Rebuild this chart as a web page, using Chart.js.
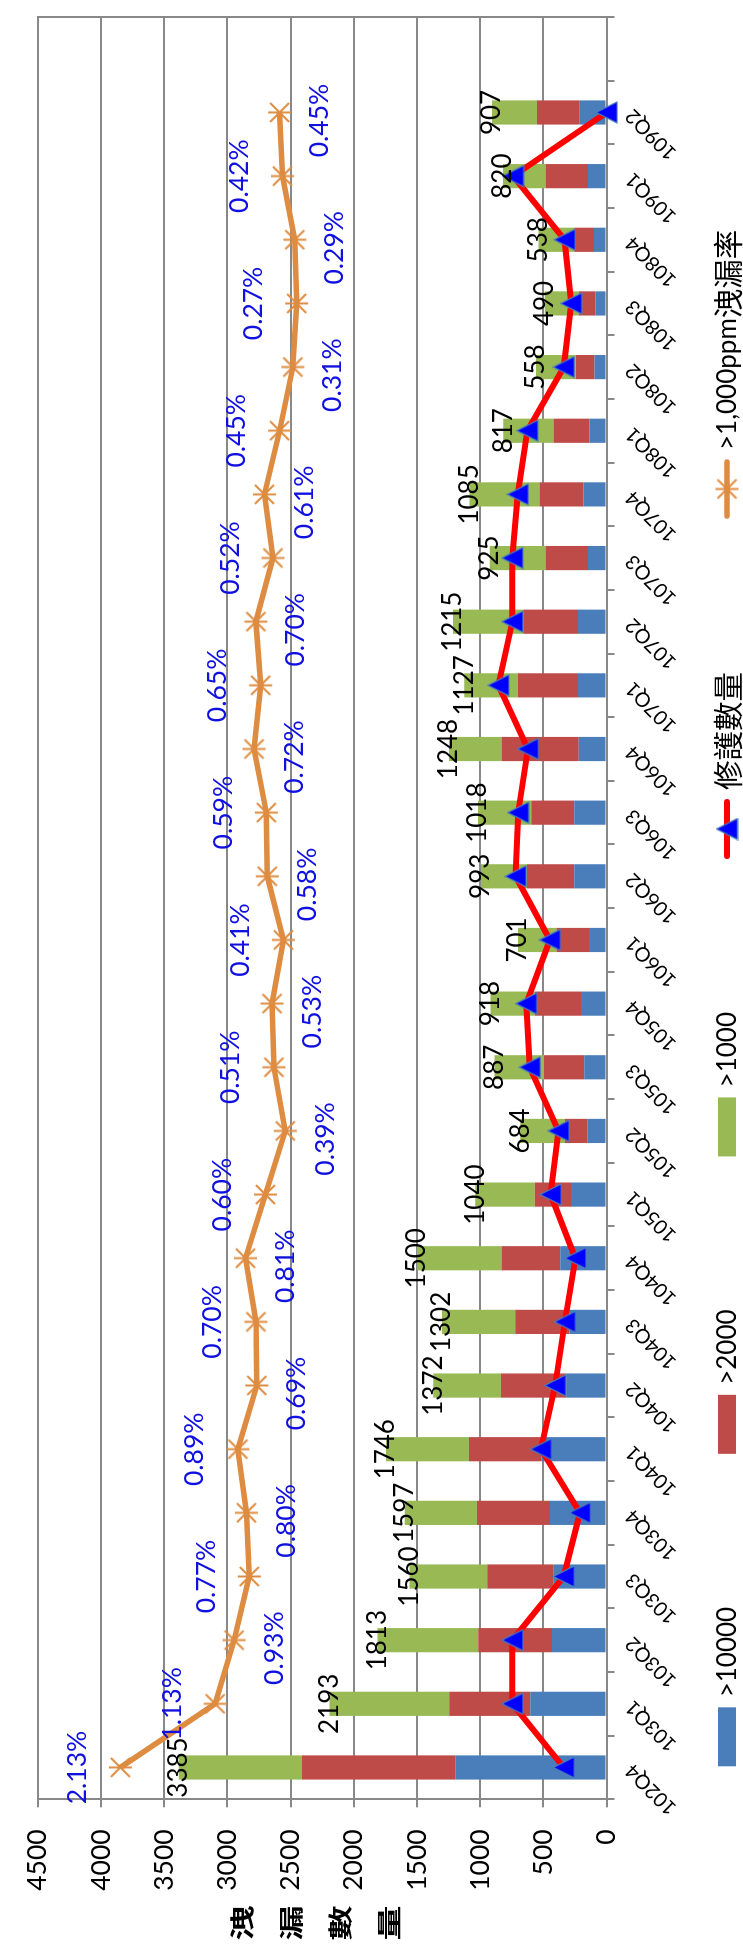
<!DOCTYPE html>
<html>
<head>
<meta charset="utf-8">
<script src="https://cdn.jsdelivr.net/npm/chart.js"></script>
<style>
  html, body { margin: 0; padding: 0; background: #fff; width: 743px; height: 1953px; overflow: hidden; }
  /* the chart is laid out landscape and turned a quarter turn counter-clockwise */
  #frame { position: absolute; left: 0; top: 1953px; width: 1953px; height: 743px;
           transform-origin: 0 0; transform: rotate(-90deg); background: #fff; }
  #chart { display: block; }
</style>
</head>
<body>
<div id="frame"><canvas id="chart" width="1953" height="743"></canvas></div>
<script>
// ---- data ----
const quarters = ['102Q4','103Q1','103Q2','103Q3','103Q4','104Q1','104Q2','104Q3','104Q4',
                  '105Q1','105Q2','105Q3','105Q4','106Q1','106Q2','106Q3','106Q4',
                  '107Q1','107Q2','107Q3','107Q4','108Q1','108Q2','108Q3','108Q4',
                  '109Q1','109Q2',''];
const leaksOver10000 = [1198,605,432,418,447,513,319,293,366,282,154,176,202,139,256,256,220,227,227,147,183,136,95,88,99,147,212];
const leaksOver2000  = [1213,641,583,527,579,575,516,429,466,286,176,319,366,257,374,341,612,476,433,337,348,285,150,132,157,337,338];
const leaksOver1000  = [974,947,798,615,571,658,537,580,668,472,354,392,350,305,363,421,416,424,555,441,554,396,313,270,282,336,357];
const repairCount    = [339,746,746,339,211,520,407,330,247,443,381,608,636,449,720,700,623,856,746,746,703,627,339,280,333,740,0];
const leakRatePct    = [2.13,1.13,0.93,0.77,0.80,0.89,0.69,0.70,0.81,0.60,0.39,0.51,0.53,0.41,0.58,0.59,0.72,0.65,0.70,0.52,0.61,0.45,0.31,0.27,0.29,0.42,0.45];
const countTicks     = [0,500,1000,1500,2000,2500,3000,3500,4000,4500];
const rateRange      = [-3, 3];
const seriesNames    = ['>10000', '>2000', '>1000', '修護數量', '>1,000ppm洩漏率'];
const axisTitle      = '洩漏數量';

// ---- styles ----
const LATIN = 'Lato, "Liberation Sans", sans-serif';
const CJK = '"Noto Sans CJK TC", "Noto Sans CJK SC", sans-serif';
const GRID = '#888888';
const BLUE_BAR = '#4A7EBB', RED_BAR = '#BE4B48', GREEN_BAR = '#98B954';
const REPAIR_RED = '#FF0000', RATE_ORANGE = '#DE8C41', RATE_TEXT = '#1010E0';

function makeTriangle(fill, stroke, w, h) {
  const c = document.createElement('canvas');
  c.width = w + 2; c.height = h + 2;
  const g = c.getContext('2d');
  g.beginPath();
  g.moveTo((w + 2) / 2, 1);
  g.lineTo(w + 1, h + 1);
  g.lineTo(1, h + 1);
  g.closePath();
  g.fillStyle = fill; g.fill();
  g.lineWidth = 1.2; g.strokeStyle = stroke; g.stroke();
  return c;
}
function makeStar(color, size, lw) {
  const c = document.createElement('canvas');
  c.width = c.height = size;
  const g = c.getContext('2d');
  const m = size / 2, d = size / 2 - 3, v = size / 2 - 1;
  g.strokeStyle = color; g.lineWidth = lw;
  g.beginPath();
  g.moveTo(m - d, m - d); g.lineTo(m + d, m + d);
  g.moveTo(m + d, m - d); g.lineTo(m - d, m + d);
  g.moveTo(m, m - v); g.lineTo(m, m + v);
  g.stroke();
  return c;
}
const triangleMark = makeTriangle('#0000FF', '#4A7EBB', 21, 21);
const starMark = makeStar(RATE_ORANGE, 25, 2);

// draws a string whose CJK and Latin runs use different faces
function drawRuns(ctx, text, x, y, latinPx, cjkPx, measureOnly) {
  const runs = text.match(/[\u3400-\u9fff]+|[^\u3400-\u9fff]+/g) || [];
  let cx = x;
  for (const r of runs) {
    const isCjk = /[\u3400-\u9fff]/.test(r);
    ctx.font = isCjk ? `${cjkPx}px ${CJK}` : `${latinPx}px ${LATIN}`;
    if (!measureOnly) ctx.fillText(r, cx, y);
    cx += ctx.measureText(r).width;
  }
  return cx - x;
}

// totals at the end of each stacked bar
const barTotals = {
  id: 'barTotals',
  afterDatasetsDraw(chart) {
    const { ctx, scales: { x, y } } = chart;
    ctx.save();
    ctx.font = `26px ${LATIN}`;
    ctx.fillStyle = '#000';
    ctx.textAlign = 'center';
    ctx.textBaseline = 'middle';
    leaksOver10000.forEach((v, i) => {
      const total = v + leaksOver2000[i] + leaksOver1000[i];
      ctx.fillText(String(total), x.getPixelForValue(i), y.getPixelForValue(total));
    });
    ctx.restore();
  }
};

// percentage labels, alternating above / below the rate line
const rateLabels = {
  id: 'rateLabels',
  afterDatasetsDraw(chart) {
    const { ctx, scales: { x, y1 } } = chart;
    ctx.save();
    ctx.font = `26.5px ${LATIN}`;
    ctx.fillStyle = RATE_TEXT;
    ctx.textAlign = 'center';
    ctx.textBaseline = 'middle';
    leakRatePct.forEach((v, i) => {
      const px = x.getPixelForValue(i);
      const py = y1.getPixelForValue(v);
      const above = i === 0 || i % 2 === 1;
      ctx.fillText(v.toFixed(2) + '%', above ? px : px - 8, above ? py - 43 : py + 40);
    });
    ctx.restore();
  }
};

// stacked, upright title of the count axis
const countTitle = {
  id: 'countTitle',
  afterDraw(chart) {
    const ctx = chart.ctx;
    ctx.save();
    ctx.font = `bold 27px ${CJK}`;
    ctx.fillStyle = '#000';
    ctx.textAlign = 'center';
    ctx.textBaseline = 'middle';
    [...axisTitle].forEach((ch, i) => {
      ctx.save();
      ctx.translate(30, 242 + i * 49);
      ctx.scale(1.3, 0.9);
      ctx.fillText(ch, 0, 0);
      ctx.restore();
    });
    ctx.restore();
  }
};

// legend row under the category labels
const bottomLegend = {
  id: 'bottomLegend',
  afterDraw(chart) {
    const ctx = chart.ctx;
    const sets = chart.data.datasets;
    const markW = 60, markGap = 9, itemGap = 153, centerX = 955, midY = 727;
    ctx.save();
    ctx.textBaseline = 'middle';
    ctx.textAlign = 'left';
    const widths = sets.map(ds => drawRuns(ctx, ds.label, 0, 0, 26, 29.5, true));
    const total = widths.reduce((a, w) => a + markW + markGap + w, 0) + itemGap * (sets.length - 1);
    let x = centerX - total / 2;
    sets.forEach((ds, i) => {
      if (ds.type === 'line') {
        ctx.strokeStyle = ds.borderColor;
        ctx.lineWidth = ds.borderWidth;
        ctx.lineCap = 'round';
        ctx.beginPath();
        ctx.moveTo(x + 3, midY); ctx.lineTo(x + markW - 3, midY);
        ctx.stroke();
        const img = ds.pointStyle;
        ctx.drawImage(img, x + markW / 2 - img.width / 2, midY - img.height / 2);
      } else {
        ctx.fillStyle = ds.backgroundColor;
        ctx.fillRect(x, midY - 9, markW - 1, 18);
      }
      ctx.fillStyle = '#000';
      drawRuns(ctx, ds.label, x + markW + markGap, midY + 1, 26, 29.5, false);
      x += markW + markGap + widths[i] + itemGap;
    });
    ctx.restore();
  }
};

new Chart(document.getElementById('chart'), {
  data: {
    labels: quarters,
    datasets: [
      { type: 'bar', label: seriesNames[0], data: leaksOver10000, backgroundColor: BLUE_BAR,
        yAxisID: 'y', stack: 'leaks', order: 2, categoryPercentage: 1, barPercentage: 0.38 },
      { type: 'bar', label: seriesNames[1], data: leaksOver2000, backgroundColor: RED_BAR,
        yAxisID: 'y', stack: 'leaks', order: 2, categoryPercentage: 1, barPercentage: 0.38 },
      { type: 'bar', label: seriesNames[2], data: leaksOver1000, backgroundColor: GREEN_BAR,
        yAxisID: 'y', stack: 'leaks', order: 2, categoryPercentage: 1, barPercentage: 0.38 },
      { type: 'line', label: seriesNames[3], data: repairCount, yAxisID: 'y', stack: 'repair', order: 1,
        borderColor: REPAIR_RED, backgroundColor: REPAIR_RED, borderWidth: 6, tension: 0,
        pointStyle: triangleMark, pointRadius: 11, clip: false },
      { type: 'line', label: seriesNames[4], data: leakRatePct, yAxisID: 'y1', order: 0,
        borderColor: RATE_ORANGE, backgroundColor: RATE_ORANGE, borderWidth: 5.5, tension: 0,
        pointStyle: starMark, pointRadius: 11, clip: false }
    ]
  },
  options: {
    responsive: false,
    animation: false,
    devicePixelRatio: 1,
    events: [],
    layout: { padding: { left: 0, right: 3.3, top: 24.6, bottom: 0 } },
    plugins: { legend: { display: false }, tooltip: { enabled: false } },
    scales: {
      x: {
        stacked: true,
        offset: true,
        grid: { display: true, drawOnChartArea: false, offset: true, tickLength: 8, color: GRID, lineWidth: 2 },
        border: { display: true, color: GRID, width: 2 },
        ticks: { autoSkip: false, minRotation: 45, maxRotation: 45, padding: 6, color: '#000',
                 font: { family: LATIN, size: 20 } },
        afterFit(s) { s.height = 136.4; }
      },
      y: {
        stacked: true,
        min: countTicks[0],
        max: countTicks[countTicks.length - 1],
        afterBuildTicks(s) { s.ticks = countTicks.map(v => ({ value: v })); },
        grid: { color: GRID, lineWidth: 2, tickLength: 8 },
        border: { display: true, color: GRID, width: 2 },
        ticks: { padding: 22, color: '#000', font: { family: LATIN, size: 26.5 },
                 callback: v => String(v) },
        afterFit(s) { s.width = 153.7; }
      },
      y1: {
        position: 'right',
        min: rateRange[0],
        max: rateRange[1],
        ticks: { display: false },
        grid: { display: false },
        border: { display: true, color: GRID, width: 2 },
        afterFit(s) { s.width = 0; }
      }
    }
  },
  plugins: [barTotals, rateLabels, countTitle, bottomLegend]
});
</script>
</body>
</html>
